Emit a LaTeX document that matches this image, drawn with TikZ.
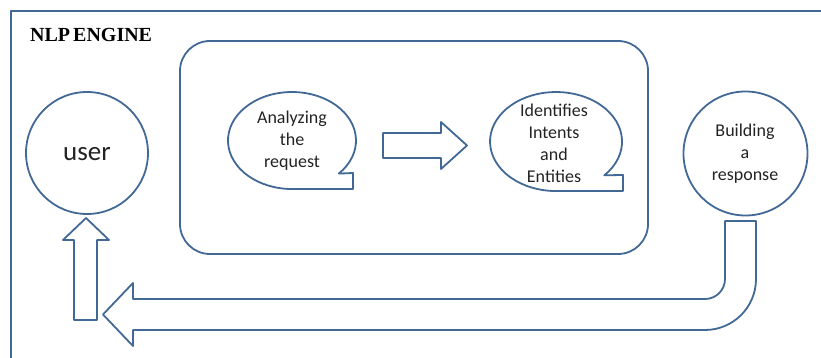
\documentclass[tikz,border=0pt]{standalone}
\usepackage{fontspec}
\setmainfont{Carlito}
\newfontfamily\titlefont{Liberation Serif}
\definecolor{lineblue}{RGB}{66,104,150}
\definecolor{txt}{RGB}{35,35,35}
\begin{document}
\begin{tikzpicture}[x=1pt,y=1pt,
  outl/.style={draw=lineblue,line width=1.8pt,line join=round},
  lbl/.style={text=txt,align=center,font=\fontsize{18}{22}\selectfont,inner sep=0pt},
  circ/.style={outl,circle,inner sep=0pt,minimum size=#1}]
\useasboundingbox (0,0) rectangle (821,358);
% outer frame (only top and left visible)
\draw[outl] (821,347) -- (11,347) -- (11,0);
\node[text=black,anchor=base west,inner sep=0pt,font=\titlefont\bfseries\fontsize{20}{22}\selectfont] (title) at (30,316) {NLP\hspace{0.15em}ENGINE};
% inner rounded box
\draw[outl,rounded corners=30] (180,104) rectangle (648,317);
% user circle
\node[circ=122pt] (user) at (87,205) {};
\node[lbl,font=\fontsize{27}{30}\selectfont] (usertxt) at (87,204) {user};
% building circle
\node[circ=124pt] (build) at (745.5,204.5) {};
\node[lbl] (buildtxt) at (745,204) {Building\\a\\response};
% bubble 1
\draw[outl] (338.8,184.4) arc[start angle=-43,end angle=270,x radius=64,y radius=48.5] -- (353,169) -- (353,185) -- cycle;
\node[lbl] (analyz) at (292,217) {Analyzing\\the\\request};
% bubble 2
\draw[outl] (604.3,182.7) arc[start angle=-43,end angle=270,x radius=66,y radius=49.5] -- (623,167) -- (623,183) -- cycle;
\node[lbl] (ident) at (554,215) {Identifies\\Intents\\and\\Entities};
% right block arrow
\draw[outl] (383,200) -- (383,225) -- (441,225) -- (441,236) -- (467,212.5) -- (441,189) -- (441,200) -- cycle;
% up block arrow
\draw[outl] (74,38) -- (74,118) -- (63,118) -- (86,140) -- (109,118) -- (97,118) -- (97,38) -- cycle;
% bent return arrow
\draw[outl] (725,137) -- (725,79) arc[start angle=0,end angle=-90,radius=20] -- (133,59) -- (133,75) -- (103,43.5) -- (133,12) -- (133,28) -- (705,28) arc[start angle=-90,end angle=0,radius=51] -- (756,137) -- cycle;
\end{tikzpicture}
\end{document}
